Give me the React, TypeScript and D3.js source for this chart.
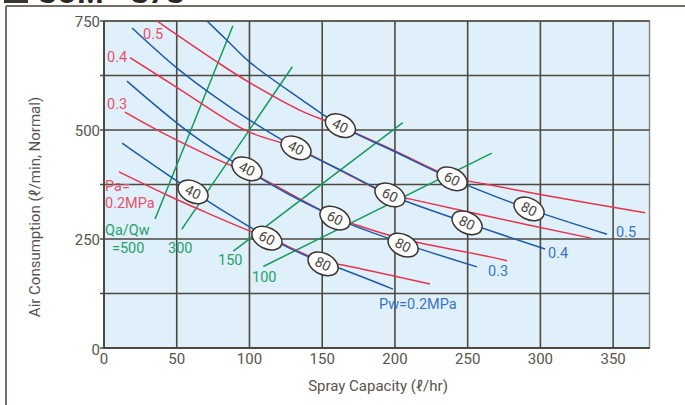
import React from "react"
import * as d3 from "d3"

// x ticks (spray capacity, l/hr) and y ticks (air consumption)
const xTicks = [0, 50, 100, 150, 200, 250, 300, 350]
const yGrid = [0, 125, 250, 375, 500, 625, 750]
const yLabels = [0, 250, 500, 750]

// Pw curves (blue)
const pw05 = [[70.8, 750], [84.5, 706], [100.4, 655], [134.8, 572], [162.5, 510], [200, 450], [239.3, 388], [292.2, 319], [345.8, 261]]
const pw04 = [[19.3, 734], [50.2, 642], [77.7, 573], [100.4, 522], [132, 459], [165, 404], [196.6, 351], [207, 337], [249.6, 287], [303.2, 227]]
const pw03 = [[15.8, 612], [59.1, 493], [98.3, 408], [127.9, 351], [158.8, 300], [169.1, 284], [205.6, 240], [256.4, 186]]
const pw02 = [[12.4, 470], [61.4, 358], [100.4, 277], [112, 255], [150.6, 195], [160.9, 184], [198.7, 135]]

// Pa curves (red)
const pa05 = [[36.4, 750], [50.2, 718], [77.7, 656], [100.4, 608], [134.8, 545], [162.5, 508], [200, 452], [239.3, 392], [262, 376], [299.8, 352], [372, 310]]
const pa04 = [[17.9, 666], [50, 598], [98.1, 498], [132, 459], [165, 403], [196.6, 351], [210, 342], [258.5, 306], [334.8, 252]]
const pa03 = [[14.4, 541], [40.6, 493], [88.7, 417], [98.3, 406], [158.8, 300], [172, 284], [205.6, 250], [265.4, 209], [277, 200]]
const pa02 = [[10.3, 404], [43.3, 351], [66, 317], [98.3, 271], [112, 255], [139.6, 213], [150.6, 199], [165, 190], [224.1, 147]]

// Qa/Qw ratio lines (green)
const qaqw500 = [[35.1, 296], [88.6, 739]]
const qaqw300 = [[53.4, 272], [129.5, 645]]
const qaqw150 = [[88.9, 222], [205.4, 517]]
const qaqw100 = [[109.5, 187], [266.6, 447]]

// droplet size markers
const ovalLabels = ["40", "40", "40", "40", "60", "60", "60", "60", "80", "80", "80", "80"]
const ovalX = [162.5, 132, 98.3, 61.2, 239.3, 196.6, 158.8, 112, 292.2, 249.6, 205.6, 150.6]
const ovalY = [510, 459, 411, 358, 388, 351, 298, 252, 319, 287, 236, 193]

const RED = "#e5334f"
const BLUE = "#1d5aa6"
const GREEN = "#139a5c"
const GRID = "#4d4842"
const FONT = "Roboto, 'Liberation Sans', sans-serif"

export default function App() {
  const x = d3.scaleLinear().domain([0, 375]).range([104, 649.5])
  const y = d3.scaleLinear().domain([0, 750]).range([348, 21])
  const line = d3
    .line<number[]>()
    .x((d) => x(d[0]))
    .y((d) => y(d[1]))
    .curve(d3.curveCatmullRom.alpha(0.5))
  const straight = d3
    .line<number[]>()
    .x((d) => x(d[0]))
    .y((d) => y(d[1]))

  const blues = [pw05, pw04, pw03, pw02]
  const reds = [pa05, pa04, pa03, pa02]
  const greens = [qaqw500, qaqw300, qaqw150, qaqw100]

  return (
    <svg
      width={685}
      height={405}
      style={{ position: "absolute", left: 0, top: 0, background: "#fff" }}
      fontFamily={FONT}
    >
      {/* page frame + cut off title */}
      <rect x={4} y={-12} width={24} height={15} fill="#3b362f" />
      <text x={38} y={3} fontSize={30} fontWeight="bold" fill="#2b2723">
        SOM - S7S
      </text>
      <line x1={6} y1={6} x2={685} y2={6} stroke="#756e63" strokeWidth={2} />
      <line x1={6} y1={6} x2={6} y2={405} stroke="#756e63" strokeWidth={2} />

      {/* plot area */}
      <rect x={x(0)} y={y(750)} width={x(375) - x(0)} height={y(0) - y(750)} fill="#e0f0fa" stroke="#8d8882" strokeWidth={1.5} />
      {xTicks.map((t) => (
        <line key={"vx" + t} x1={x(t)} x2={x(t)} y1={y(0)} y2={y(750)} stroke={GRID} strokeWidth={1.6} />
      ))}
      {yGrid.map((t) => (
        <line key={"hy" + t} x1={x(0) - 4} x2={x(375)} y1={y(t)} y2={y(t)} stroke={GRID} strokeWidth={1.6} />
      ))}
      <line x1={x(0)} x2={x(0)} y1={y(0)} y2={y(750)} stroke={GRID} strokeWidth={2} />
      <line x1={x(0)} x2={x(375)} y1={y(0)} y2={y(0)} stroke={GRID} strokeWidth={2} />

      {/* tick labels */}
      {yLabels.map((t) => (
        <text key={"yl" + t} x={100} y={y(t) + (t === 0 ? 2 : 1)} dy="0.35em" textAnchor="end" fontSize={15} fill="#58534d">
          {t}
        </text>
      ))}
      {xTicks.map((t) => (
        <text key={"xl" + t} x={x(t)} y={359} dy="0.35em" textAnchor="middle" fontSize={15} fill="#58534d">
          {t}
        </text>
      ))}
      <text transform="translate(40,207) rotate(-90)" textAnchor="middle" fontSize={15} fill="#58534d">
        Air Consumption (ℓ/min, Normal)
      </text>
      <text x={378} y={391} textAnchor="middle" fontSize={15} fill="#58534d">
        Spray Capacity (ℓ/hr)
      </text>

      {/* curves */}
      {greens.map((g, i) => (
        <path key={"g" + i} d={straight(g) || ""} fill="none" stroke={GREEN} strokeWidth={1.5} />
      ))}
      {reds.map((r, i) => (
        <path key={"r" + i} d={line(r) || ""} fill="none" stroke={RED} strokeWidth={1.5} />
      ))}
      {blues.map((b, i) => (
        <path key={"b" + i} d={line(b) || ""} fill="none" stroke={BLUE} strokeWidth={1.5} />
      ))}

      {/* ovals */}
      {ovalLabels.map((lab, i) => (
        <g key={"o" + i} transform={`translate(${x(ovalX[i])},${y(ovalY[i])}) rotate(27)`}>
          <ellipse rx={16} ry={10.5} fill="#fff" stroke="#3a3530" strokeWidth={1.5} />
          <text dy="0.36em" textAnchor="middle" fontSize={14} fill="#4a4540">
            {lab}
          </text>
        </g>
      ))}

      {/* red Pa labels */}
      <g fill="#e8506a" fontSize={14.5}>
        <text x={143} y={39}>0.5</text>
        <text x={107} y={62}>0.4</text>
        <text x={107} y={109}>0.3</text>
        <text x={105} y={191}>Pa=</text>
        <text x={105} y={208}>0.2MPa</text>
      </g>
      {/* green Qa/Qw labels */}
      <g fill="#27a06a" fontSize={14.5}>
        <text x={105} y={235}>Qa/Qw</text>
        <text x={112} y={253}>=500</text>
        <text x={168} y={253}>300</text>
        <text x={218} y={265}>150</text>
        <text x={252} y={282}>100</text>
      </g>
      {/* blue Pw labels */}
      <g fill="#3676be" fontSize={14.5}>
        <text x={616} y={237}>0.5</text>
        <text x={548} y={258}>0.4</text>
        <text x={488} y={276}>0.3</text>
        <text x={379} y={309}>Pw=0.2MPa</text>
      </g>
    </svg>
  )
}
